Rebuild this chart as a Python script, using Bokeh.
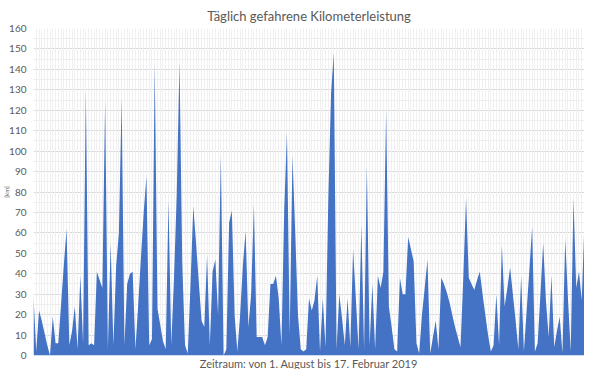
import pandas as pd
from bokeh.plotting import figure
from bokeh.models import (Range1d, SingleIntervalTicker, Grid, DaysTicker, MonthsTicker,
                          ColumnDataSource, Title)
from bokeh.embed import file_html
from bokeh.resources import INLINE

start_date = "2018-08-01"
end_date = "2019-02-17"
km = [
    29, 2, 22, 17, 11, 5, 0, 19, 6, 6,
    25, 44, 62, 5, 12, 24, 3, 39, 6, 130,
    5, 6, 5, 41, 37, 33, 125, 3, 55, 5,
    44, 60, 126, 5, 35, 40, 41, 3, 25, 48,
    70, 88, 5, 8, 143, 23, 15, 7, 3, 76,
    5, 38, 79, 144, 45, 5, 1, 35, 73, 55,
    36, 17, 14, 49, 5, 41, 47, 20, 98, 0,
    3, 65, 71, 20, 2, 20, 44, 61, 14, 30,
    74, 9, 9, 9, 5, 9, 35, 35, 39, 28,
    5, 71, 109, 10, 98, 60, 20, 3, 2, 3,
    28, 22, 27, 39, 2, 28, 4, 76, 128, 148,
    3, 30, 18, 5, 28, 4, 52, 28, 3, 64,
    3, 93, 5, 35, 3, 39, 33, 41, 120, 24,
    14, 3, 2, 38, 30, 30, 58, 52, 46, 6,
    1, 20, 33, 47, 1, 9, 17, 3, 38, 35,
    31, 26, 20, 14, 9, 4, 38, 77, 38, 35,
    32, 37, 41, 30, 20, 10, 2, 5, 30, 5,
    54, 24, 33, 43, 30, 17, 3, 39, 2, 22,
    42, 63, 2, 6, 30, 55, 27, 9, 39, 4,
    12, 19, 1, 57, 28, 2, 77, 33, 41, 27,
    66,
]
title_text = "Täglich gefahrene Kilometerleistung"
x_title = "Zeitraum: von 1. August bis 17. Februar 2019"
y_title = "[km]"
y_max = 160

dates = pd.date_range(start_date, end_date, freq="D")
src = ColumnDataSource(dict(x=dates, y=km))

FONT = "Lato"
TXT = "#595959"

p = figure(width=584, height=369, x_axis_type="datetime",
           x_range=Range1d(dates[0], dates[-1]), y_range=Range1d(0, y_max),
           output_backend="svg", toolbar_location=None,
           min_border_left=26, min_border_right=0, min_border_top=0, min_border_bottom=0)
p.outline_line_color = None
p.background_fill_color = "white"

p.title.text = title_text
p.title.align = "center"
p.title.text_font = FONT
p.title.text_font_size = "13px"
p.title.text_font_style = "normal"
p.title.text_color = TXT
p.title.standoff = 10

# Y axis
p.yaxis.ticker = SingleIntervalTicker(interval=10, num_minor_ticks=2)
p.yaxis.axis_line_color = None
p.yaxis.major_tick_line_color = None
p.yaxis.minor_tick_line_color = None
p.yaxis.major_tick_out = 0
p.yaxis.major_tick_in = 0
p.yaxis.minor_tick_out = 0
p.yaxis.minor_tick_in = 0
p.yaxis.major_label_text_font = FONT
p.yaxis.major_label_text_font_size = "10px"
p.yaxis.major_label_text_color = TXT
p.yaxis.major_label_standoff = 7
p.yaxis.axis_label = y_title
p.yaxis.axis_label_text_font = FONT
p.yaxis.axis_label_text_font_size = "6px"
p.yaxis.axis_label_text_font_style = "normal"
p.yaxis.axis_label_text_color = TXT
p.yaxis.axis_label_standoff = -4

p.ygrid.ticker = p.yaxis.ticker
p.ygrid.grid_line_color = "#d9d9d9"
p.ygrid.minor_grid_line_color = "#ededed"

# X axis: hidden, title below instead
p.xaxis.visible = False
p.xgrid.ticker = MonthsTicker(months=list(range(12)))
p.xgrid.grid_line_color = "#d9d9d9"

day_grid = Grid(dimension=0, ticker=DaysTicker(days=list(range(1, 32))),
                grid_line_color="#f0f0f0", level="underlay")
p.add_layout(day_grid)

p.add_layout(Title(text=x_title, align="center", text_font=FONT, text_font_size="11px",
                   text_font_style="normal", text_color=TXT, standoff=-1), "below")

p.varea(x="x", y1=0, y2="y", source=src, fill_color="#4472C4")

open("out.html", "w").write(file_html(p, INLINE))
